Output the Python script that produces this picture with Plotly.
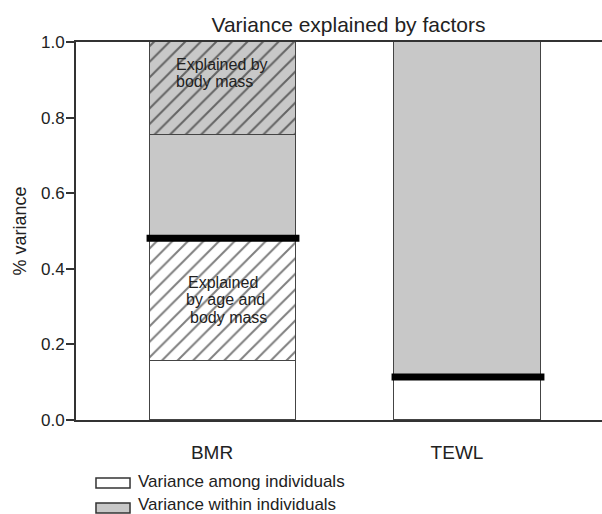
import plotly.graph_objects as go

# ---- data ----
categories = ["BMR", "TEWL"]
among_plain = [0.156, 0.114]      # variance among individuals (unexplained)
among_hatched = [0.325, None]     # among individuals, explained by age and body mass
within_plain = [0.273, 0.886]     # variance within individuals (unexplained)
within_hatched = [0.246, None]    # within individuals, explained by body mass
among_total = [0.481, 0.114]      # boundary between among/within
y_ticks = [0.0, 0.2, 0.4, 0.6, 0.8, 1.0]
legend_labels = ["Variance among individuals", "Variance within individuals"]

xpos = list(range(len(categories)))
BAR_W = 0.6
GRAY = "#c8c8c8"
EDGE = "#444444"
FONT = "Liberation Sans, Arial, Helvetica, sans-serif"

fig = go.Figure()

def add_bar(vals, fill, hatched, name):
    pattern = dict(shape="/", size=11, solidity=0.18, fgcolor="#000000",
                   bgcolor=fill) if hatched else dict(shape="")
    fig.add_trace(go.Bar(
        x=xpos, y=vals, width=BAR_W, name=name, showlegend=False,
        marker=dict(color=fill, line=dict(color=EDGE, width=1.2),
                    pattern=pattern),
        hoverinfo="skip"))

add_bar(among_plain, "white", False, legend_labels[0])
add_bar(among_hatched, "white", True, legend_labels[0])
add_bar(within_plain, GRAY, False, legend_labels[1])
add_bar(within_hatched, GRAY, True, legend_labels[1])

# thick boundary line between among/within variance
lx, ly = [], []
for i, v in zip(xpos, among_total):
    lx += [i - BAR_W / 2 - 0.012, i + BAR_W / 2 + 0.012, None]
    ly += [v, v, None]
fig.add_trace(go.Scatter(x=lx, y=ly, mode="lines", showlegend=False,
                         line=dict(color="black", width=7), hoverinfo="skip"))

# in-bar labels
ann_font = dict(family=FONT, size=16, color="#222222")
annotations = [
    dict(text="Explained by", x=-0.196, y=0.940, xanchor="left"),
    dict(text="body mass", x=-0.196, y=0.895, xanchor="left"),
    dict(text="Explained", x=0.0, y=0.364, xanchor="center"),
    dict(text="by age and", x=0.012, y=0.318, xanchor="center"),
    dict(text="body mass", x=0.024, y=0.272, xanchor="center"),
]
for a in annotations:
    fig.add_annotation(xref="x", yref="y", yanchor="middle", showarrow=False,
                       font=ann_font, borderpad=0, **a)

# custom legend (wide boxes as in the reference)
leg_fills = ["white", GRAY]
leg_y = [(-0.1534, -0.1799), (-0.2196, -0.2460)]
leg_text_y = [-0.1640, -0.2240]
for lab, fill, (y0, y1), ty in zip(legend_labels, leg_fills, leg_y, leg_text_y):
    fig.add_shape(type="rect", xref="paper", yref="paper",
                  x0=0.038, x1=0.1027, y0=y0, y1=y1,
                  fillcolor=fill, line=dict(color="#333333", width=1.5))
    fig.add_annotation(xref="paper", yref="paper", x=0.116, y=ty,
                       xanchor="left", yanchor="middle", showarrow=False,
                       borderpad=0,
                       text=lab, font=dict(family=FONT, size=17, color="#222222"))

fig.update_layout(
    width=602, height=514,
    margin=dict(l=76, r=0, t=42, b=94),
    barmode="stack", bargap=0,
    plot_bgcolor="white", paper_bgcolor="white",
    font=dict(family=FONT, color="#222222"),
    title=dict(text="Variance explained by factors", x=0.518, xref="paper",
               y=1 - 24.5 / 514, yref="container", xanchor="center",
               yanchor="middle", font=dict(size=21, color="#222222")),
    showlegend=False,
)
fig.update_xaxes(
    range=[-0.6, 1.547], tickvals=xpos, ticktext=categories,
    showgrid=False, zeroline=False, ticks="",
    showline=True, linecolor="#333333", linewidth=2, mirror=True,
    tickfont=dict(size=19, color="#222222"), ticklabelstandoff=14,
    ticklabelshift=-11,
)
fig.update_yaxes(
    range=[0, 1], tickvals=y_ticks, ticktext=[f"{t:.1f}" for t in y_ticks],
    showgrid=False, zeroline=False, ticks="outside", ticklen=8, tickwidth=1.5,
    tickcolor="#333333", showline=True, linecolor="#333333", linewidth=2,
    tickfont=dict(size=17, color="#222222"), ticklabelstandoff=-2,
    title=dict(text="% variance", font=dict(size=18, color="#222222"), standoff=10),
)

fig.write_html("out.html")
